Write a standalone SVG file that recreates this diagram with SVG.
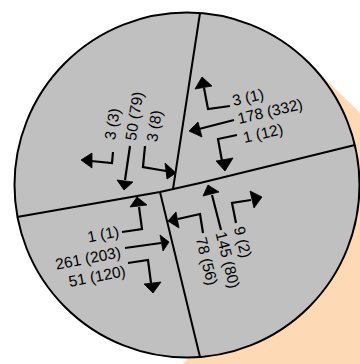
<svg xmlns="http://www.w3.org/2000/svg" width="360" height="364" viewBox="0 0 360 364">
<style>
.lbl{font-family:"Liberation Sans",Arial,sans-serif;font-size:15.5px;fill:#000;text-anchor:middle}
.ln{fill:none;stroke:#000;stroke-width:2.2;stroke-linejoin:miter}
.hd{fill:#000;stroke:#000;stroke-width:0.8;stroke-linejoin:miter}
.div{fill:none;stroke:#000;stroke-width:2}
</style>
<rect width="360" height="364" fill="#fff"/>
<g id="shadow"><polygon points="318,72 360,113 360,364 183,364 215,330 250,250" fill="#FDD9B5"/></g>
<g id="disc">
<circle cx="187" cy="185" r="172.5" fill="#C0C0C0" stroke="#000" stroke-width="2"/>
<polyline class="div" points="17,217 160,192 200,183 355,145"/>
<line class="div" x1="200" y1="13" x2="173" y2="189"/>
<line class="div" x1="160" y1="192" x2="200" y2="357"/>
</g>
<g id="connectors">
<polyline class="ln" points="113,152 112,163 91,161"/><polygon class="hd" points="81,160 92,153 92,168"/>
<polyline class="ln" points="130,146 125,180"/><polygon class="hd" points="124,190 117,180 133,182"/>
<polyline class="ln" points="145,146 143,167 166,171"/><polygon class="hd" points="176,173 165,163 167,179"/>
<polyline class="ln" points="230,106 208,109 204,88"/><polygon class="hd" points="202,77 195,89 212,86"/>
<polyline class="ln" points="234,120 199,129"/><polygon class="hd" points="189,131 198,122 202,137"/>
<polyline class="ln" points="237,135 218,139 222,161"/><polygon class="hd" points="225,171 216,161 233,158"/>
<polyline class="ln" points="122,232 142,229 139,207"/><polygon class="hd" points="137,197 130,207 147,205"/>
<polyline class="ln" points="125,248 161,243"/><polygon class="hd" points="169,242 160,235 163,251"/>
<polyline class="ln" points="128,263 148,260 151,283"/><polygon class="hd" points="153,293 144,284 161,282"/>
<polyline class="ln" points="203,233 200,214 178,219"/><polygon class="hd" points="168,221 176,212 179,228"/>
<polyline class="ln" points="221,230 212,195"/><polygon class="hd" points="208,185 203,196 219,192"/>
<polyline class="ln" points="236,223 232,203 251,200"/><polygon class="hd" points="262,197 250,191 254,208"/>
</g>
<g id="north">
<text class="lbl" transform="translate(112,124) rotate(-81)" dy="0.36em">3 (3)</text>
<text class="lbl" transform="translate(134,116) rotate(-81)" dy="0.36em">50 (79)</text>
<text class="lbl" transform="translate(154,126) rotate(-81)" dy="0.36em">3 (8)</text>
</g>
<g id="east">
<text class="lbl" transform="translate(248,97) rotate(-13)" dy="0.36em">3 (1)</text>
<text class="lbl" transform="translate(270,111) rotate(-13)" dy="0.36em">178 (332)</text>
<text class="lbl" transform="translate(263,133) rotate(-13)" dy="0.36em">1 (12)</text>
</g>
<g id="west">
<text class="lbl" transform="translate(103,234) rotate(-11)" dy="0.36em">1 (1)</text>
<text class="lbl" transform="translate(88,258) rotate(-11)" dy="0.36em">261 (203)</text>
<text class="lbl" transform="translate(97,276) rotate(-11)" dy="0.36em">51 (120)</text>
</g>
<g id="south">
<text class="lbl" transform="translate(207,261) rotate(76)" dy="0.36em">78 (56)</text>
<text class="lbl" transform="translate(228,260) rotate(76)" dy="0.36em">145 (80)</text>
<text class="lbl" transform="translate(243,242) rotate(76)" dy="0.36em">9 (2)</text>
</g>
</svg>
